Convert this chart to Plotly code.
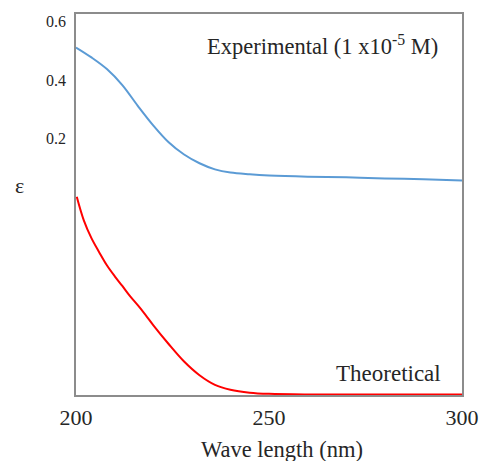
import plotly.graph_objects as go

# Data
exp_wavelength = [200, 204, 208, 212, 216, 220, 224, 228, 232, 236, 240, 245, 250, 260, 270, 280, 290, 300]
exp_eps = [0.512, 0.478, 0.438, 0.383, 0.312, 0.245, 0.187, 0.145, 0.115, 0.094, 0.083, 0.077,
           0.073, 0.069, 0.067, 0.063, 0.060, 0.056]

theo_wavelength = [200.2, 202, 204, 206, 208, 210, 212, 214, 216, 218, 220, 224, 228, 232, 236, 240,
                   245, 250, 260, 300]
theo_eps = [0.0, -0.080, -0.142, -0.190, -0.235, -0.272, -0.306, -0.341, -0.372, -0.405, -0.440,
            -0.505, -0.565, -0.612, -0.645, -0.662, -0.672, -0.676, -0.678, -0.678]

x_ticks = [200, 250, 300]
y_ticks = [0.2, 0.4, 0.6]

FONT = "Liberation Serif"
TXT = "#262626"

fig = go.Figure()
fig.add_trace(go.Scatter(x=exp_wavelength, y=exp_eps, mode="lines",
                         line=dict(color="#5b9bd5", width=2, shape="spline", smoothing=1.0),
                         showlegend=False, hoverinfo="skip"))
fig.add_trace(go.Scatter(x=theo_wavelength, y=theo_eps, mode="lines",
                         line=dict(color="#ff0000", width=2, shape="spline", smoothing=1.0),
                         showlegend=False, hoverinfo="skip"))

fig.update_layout(
    width=491, height=461,
    margin=dict(l=76, r=21, t=14, b=66),
    paper_bgcolor="white", plot_bgcolor="white",
    font=dict(family=FONT, color=TXT),
    xaxis=dict(range=[200, 300], tickvals=x_ticks, showgrid=False, zeroline=False,
               showline=True, linecolor="#8c8c8c", linewidth=1.5, mirror=True,
               ticks="", tickfont=dict(size=22, family=FONT, color=TXT), ticklabelstandoff=2),
    yaxis=dict(range=[-0.68, 0.627], tickvals=y_ticks, ticktext=["0.2", "0.4", "0.6"],
               showgrid=False, zeroline=False,
               showline=True, linecolor="#8c8c8c", linewidth=1.5, mirror=True,
               ticks="", tickfont=dict(size=16, family=FONT, color=TXT), ticklabelstandoff=5),
    annotations=[
        dict(text="Experimental (1 x10<sup>-5</sup> M)", x=328, y=45,
             showarrow=False, font=dict(size=22.5, family=FONT, color=TXT)),
        dict(text="Theoretical", x=395, y=373, showarrow=False, font=dict(size=23, family=FONT, color=TXT)),
        dict(text="ε", x=18, y=185, showarrow=False, font=dict(size=22, family=FONT, color=TXT)),
        dict(text="Wave length (nm)", x=286, y=449, showarrow=False,
             font=dict(size=22.5, family=FONT, color=TXT)),
    ],
)

# convert pixel positions of annotations to paper coords
W, H = 491, 461
l, r, t, b = 76, 21, 14, 66
pw, ph = W - l - r, H - t - b
for a in fig.layout.annotations:
    px, py = a.x, a.y
    a.xref = "paper"; a.yref = "paper"
    a.x = (px - l) / pw
    a.y = 1 - (py - t) / ph
    a.xanchor = "center"; a.yanchor = "middle"

fig.write_html("out.html")
